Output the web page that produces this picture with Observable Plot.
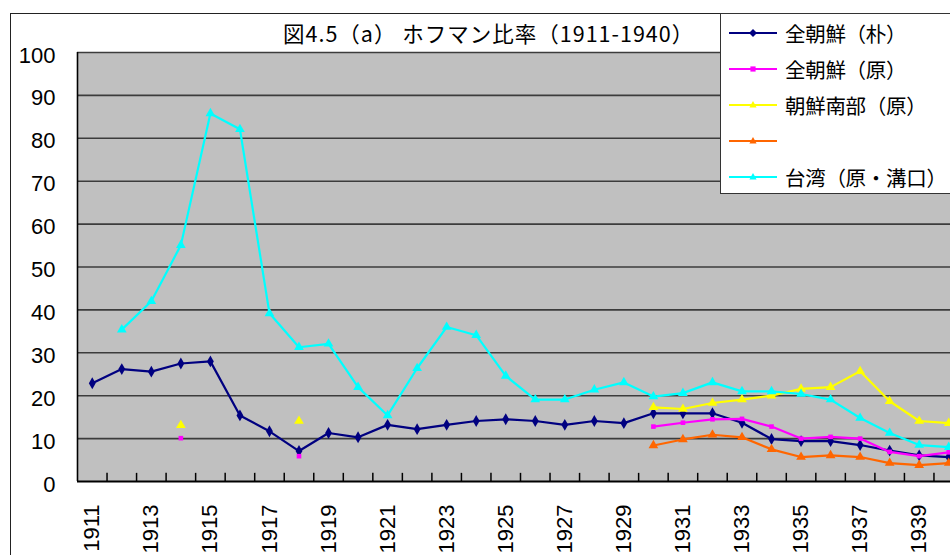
<!DOCTYPE html>
<html>
<head>
<meta charset="utf-8">
<script src="https://cdn.jsdelivr.net/npm/d3@7"></script>
<script src="https://cdn.jsdelivr.net/npm/@observablehq/plot@0.6"></script>
<style>
  html, body { margin: 0; padding: 0; background: #fff; }
  #wrap { position: relative; width: 950px; height: 555px; overflow: hidden; background: #fff; }
  #outer { position: absolute; left: 10px; top: 13px; width: 1000px; height: 1000px; border: 1px solid #222; box-sizing: border-box; }
  #chart { position: absolute; left: 0; top: 0; }
  #title { position: absolute; left: 283px; top: 20px; font-family: "Noto Sans CJK JP", sans-serif; font-size: 21.5px; letter-spacing: 1px; line-height: 26px; color: #000; white-space: nowrap; }
  #legend { position: absolute; left: 720px; top: 13px; width: 260px; height: 181px; background: #fff; border: 1px solid #333; box-sizing: border-box; }
  .item { position: absolute; left: 8px; height: 30px; display: flex; align-items: center; font-family: "Noto Sans CJK JP", sans-serif; font-size: 20.5px; letter-spacing: -0.3px; color: #000; white-space: nowrap; }
  .item svg { margin-right: 8px; }
</style>
</head>
<body>
<div id="wrap">
  <div id="outer"></div>
  <div id="chart"></div>
  <div id="title"></div>
  <div id="legend"></div>
</div>
<script>
// ---- data ----
const years = [1911,1912,1913,1914,1915,1916,1917,1918,1919,1920,1921,1922,1923,1924,1925,1926,1927,1928,1929,1930,1931,1932,1933,1934,1935,1936,1937,1938,1939,1940];
const labelYears = [1911,1913,1915,1917,1919,1921,1923,1925,1927,1929,1931,1933,1935,1937,1939];
const yTicks = [0,10,20,30,40,50,60,70,80,90,100];
const seriesNames = ["全朝鮮（朴）", "全朝鮮（原）", "朝鮮南部（原）", "", "台湾（原・溝口）"];
const koreaPark = [22.9,26.2,25.6,27.5,28.0,15.4,11.7,7.1,11.3,10.3,13.2,12.2,13.2,14.1,14.5,14.1,13.2,14.1,13.6,15.9,15.9,15.9,13.7,9.9,9.4,9.4,8.5,7.2,6.1,5.7];
const koreaHara = [null,null,null,10.1,null,null,null,5.9,null,null,null,null,null,null,null,null,null,null,null,12.8,13.7,14.5,14.6,12.8,10.0,10.4,10.0,6.9,5.9,6.8];
const southHara = [null,null,null,13.1,null,null,null,14.1,null,null,null,null,null,null,null,null,null,null,null,17.3,16.9,18.3,19.1,20.0,21.6,22.0,25.7,18.7,14.1,13.6];
const unnamed = [null,null,null,null,null,null,null,null,null,null,null,null,null,null,null,null,null,null,null,8.4,9.8,10.9,10.3,7.5,5.7,6.1,5.7,4.3,3.8,4.3];
const taiwan = [null,35.4,42.0,55.1,85.8,82.1,39.2,31.3,32.1,22.0,15.4,26.4,36.0,34.1,24.6,19.1,19.1,21.4,23.1,19.8,20.6,23.1,21.0,21.0,20.4,19.1,14.8,11.3,8.5,8.0];
const titleText = "図4.5（a） ホフマン比率（1911-1940）";

// ---- styles ----
const styles = [
  {color: "#000080", symbol: "diamond", r: 3.6},
  {color: "#ff00ff", symbol: "square", r: 2.6},
  {color: "#ffff00", symbol: "triangle", r: 3.6},
  {color: "#ff6600", symbol: "triangle", r: 3.6},
  {color: "#00ffff", symbol: "triangle", r: 3.6}
];
const allSeries = [koreaPark, koreaHara, southHara, unnamed, taiwan];

const marks = [
  Plot.frame({fill: "#c0c0c0", stroke: null}),
  Plot.ruleY(yTicks.filter(v => v > 0), {stroke: "#3c3c3c", strokeWidth: 1.6}),
  Plot.ruleY([0], {stroke: "#000", strokeWidth: 2}),
  Plot.ruleX([years[0] - 0.5], {stroke: "#000", strokeWidth: 1.6}),
  Plot.ruleX(years.map(y => y + 0.5), {y1: 0, y2: 1.9, stroke: "#000", strokeWidth: 1.5}),
  Plot.axisY(yTicks, {label: null, tickSize: 0, tickPadding: 22, fontSize: 22, dy: 3, fontFamily: "Liberation Sans, Arial, sans-serif", fill: "#000"}),
  Plot.axisX(labelYears, {label: null, tickSize: 0, tickRotate: -90, tickPadding: 23, fontSize: 22, fontFamily: "Liberation Sans, Arial, sans-serif", fill: "#000", tickFormat: d => String(d)})
];

allSeries.forEach((vals, i) => {
  const data = years.map((yr, j) => ({year: yr, value: vals[j]}));
  const st = styles[i];
  marks.push(Plot.line(data, {x: "year", y: "value", stroke: st.color, strokeWidth: 2.2}));
  marks.push(Plot.dot(data.filter(d => d.value != null), {x: "year", y: "value", fill: st.color, stroke: "none", symbol: st.symbol, r: st.r}));
});

const chart = Plot.plot({
  width: 950,
  height: 555,
  marginTop: 52,
  marginBottom: 74,
  marginLeft: 77,
  marginRight: 0,
  style: {background: "transparent", overflow: "visible"},
  x: {type: "linear", domain: [1910.5, 1940.06], axis: null, label: null},
  y: {domain: [0, 100], axis: null, label: null},
  marks
});
document.getElementById("chart").appendChild(chart);
document.getElementById("title").textContent = titleText;

// ---- legend ----
const legend = document.getElementById("legend");
const symPath = {
  diamond: "M0,-4L4,0L0,4L-4,0Z",
  square: "M-2.6,-2.6H2.6V2.6H-2.6Z",
  triangle: "M0,-4L3.6,2.4H-3.6Z"
};
seriesNames.forEach((name, i) => {
  const st = styles[i];
  const div = document.createElement("div");
  div.className = "item";
  div.style.top = (19 + i * 36 - 15) + "px";
  const sw = `<svg width="48" height="12" viewBox="0 0 48 12"><line x1="0" y1="6" x2="48" y2="6" stroke="${st.color}" stroke-width="2.2"/><path transform="translate(24,6)" d="${symPath[st.symbol]}" fill="${st.color}"/></svg>`;
  div.innerHTML = sw + `<span>${name}</span>`;
  legend.appendChild(div);
});
</script>
</body>
</html>
